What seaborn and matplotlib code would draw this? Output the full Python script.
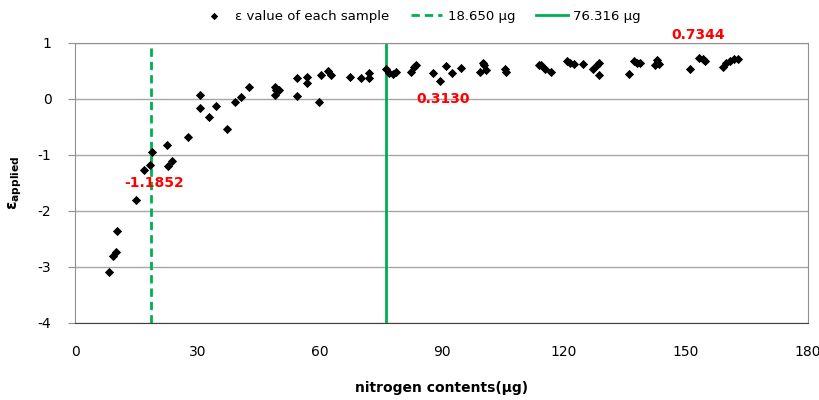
import numpy as np
import pandas as pd
import matplotlib
matplotlib.use('Agg')
import matplotlib.pyplot as plt
import seaborn as sns

# nilai epsilon tiap sampel
nitrogen = [8.4, 9.4, 10.1, 10.4, 15.0, 17.0, 18.4, 18.8, 22.5, 22.8, 23.8, 27.8,
            30.8, 30.7, 32.9, 34.6, 37.4, 39.2, 40.8, 42.8,
            49.0, 49.4, 50.1, 49.1, 54.5, 54.5, 56.9, 56.9, 60.0, 60.4, 62.0, 62.8,
            67.6, 70.2, 72.2, 72.2, 76.3, 77.2, 78.1, 78.9, 82.5, 83.2, 83.8,
            87.8, 89.7, 91.2, 92.6, 94.8, 99.4, 100.2, 100.4, 101.0, 105.6, 105.7,
            114.0, 114.3, 115.5, 116.9, 120.8, 121.6, 122.4, 124.7, 127.1, 128.2,
            128.7, 128.7, 136.0, 137.2, 138.0, 138.7, 142.3, 142.9, 143.3,
            151.1, 153.3, 154.1, 154.8, 159.0, 159.9, 160.8, 161.8, 162.7]
epsilon = [-3.09, -2.80, -2.74, -2.36, -1.80, -1.27, -1.1852, -0.95, -0.83, -1.20, -1.10, -0.68,
           0.07, -0.155, -0.32, -0.125, -0.54, -0.06, 0.04, 0.21,
           0.21, 0.16, 0.16, 0.08, 0.38, 0.06, 0.40, 0.29, -0.05, 0.42, 0.50, 0.43,
           0.39, 0.38, 0.47, 0.38, 0.54, 0.47, 0.44, 0.49, 0.48, 0.57, 0.60,
           0.46, 0.3130, 0.59, 0.47, 0.56, 0.49, 0.64, 0.60, 0.51, 0.54, 0.49,
           0.60, 0.60, 0.53, 0.49, 0.68, 0.64, 0.62, 0.625, 0.54, 0.61,
           0.65, 0.43, 0.44, 0.67, 0.64, 0.65, 0.61, 0.70, 0.62,
           0.53, 0.7344, 0.71, 0.67, 0.58, 0.64, 0.68, 0.71, 0.71]

# garis batas
threshold_low = 18.650
threshold_high = 76.316

# label nilai penting
note_values = [-1.1852, 0.3130, 0.7344]
note_x = [18.4, 89.7, 153.3]

df = pd.DataFrame({'nitrogen': nitrogen, 'epsilon': epsilon})

green = '#00B050'
plt.rcParams['font.family'] = ['DejaVu Sans']
plt.rcParams['axes.unicode_minus'] = False

fig = plt.figure(figsize=(8.2, 4), dpi=100)
ax = fig.add_axes([0.0915, 0.1925, 0.894, 0.70])

sns.scatterplot(data=df, x='nitrogen', y='epsilon', marker='D', color='black',
                s=22, edgecolor='black', linewidth=0, ax=ax,
                label='\u03b5 value of each sample', zorder=3)
ax.axvline(threshold_low, color=green, linestyle=(0, (3, 1.8)), linewidth=2,
           label=f'{threshold_low:.3f} \u03bcg', zorder=2)
ax.axvline(threshold_high, color=green, linestyle='-', linewidth=2,
           label=f'{threshold_high:.3f} \u03bcg', zorder=2)

# teks merah
offsets = [(1, -0.32), (0.7, -0.31), (-0.2, 0.41)]
for v, xv, (dx, dy) in zip(note_values, note_x, offsets):
    ax.text(xv + dx, v + dy, f'{v:.4f}', color='red', fontsize=10, fontweight='bold',
            ha='center', va='center', clip_on=False)

ax.set_xlim(0, 180)
ax.set_ylim(-4, 1)
ax.set_xticks(range(0, 181, 30))
ax.set_yticks(range(-4, 2))
ax.yaxis.grid(True, color='#a6a6a6', linewidth=1)
ax.set_axisbelow(True)
for sp in ax.spines.values():
    sp.set_color('#909090')
ax.spines['bottom'].set_color('#404040')
ax.tick_params(axis='y', colors='#909090', labelcolor='black', labelsize=10, length=5, pad=12)
ax.tick_params(axis='x', length=0, labelcolor='black', labelsize=10, pad=16)

ax.set_xlabel('nitrogen contents(\u03bcg)', fontsize=10, fontweight='bold', labelpad=16)
ax.set_ylabel(r'$\mathbf{\epsilon_{applied}}$', fontsize=11, labelpad=10)

ax.legend(loc='lower center', bbox_to_anchor=(0.47, 1.03), ncol=3, frameon=False,
          fontsize=9.5, handlelength=2.4, columnspacing=1.6, handletextpad=0.4,
          markerscale=0.8)

fig.savefig('out.png', dpi=100)
